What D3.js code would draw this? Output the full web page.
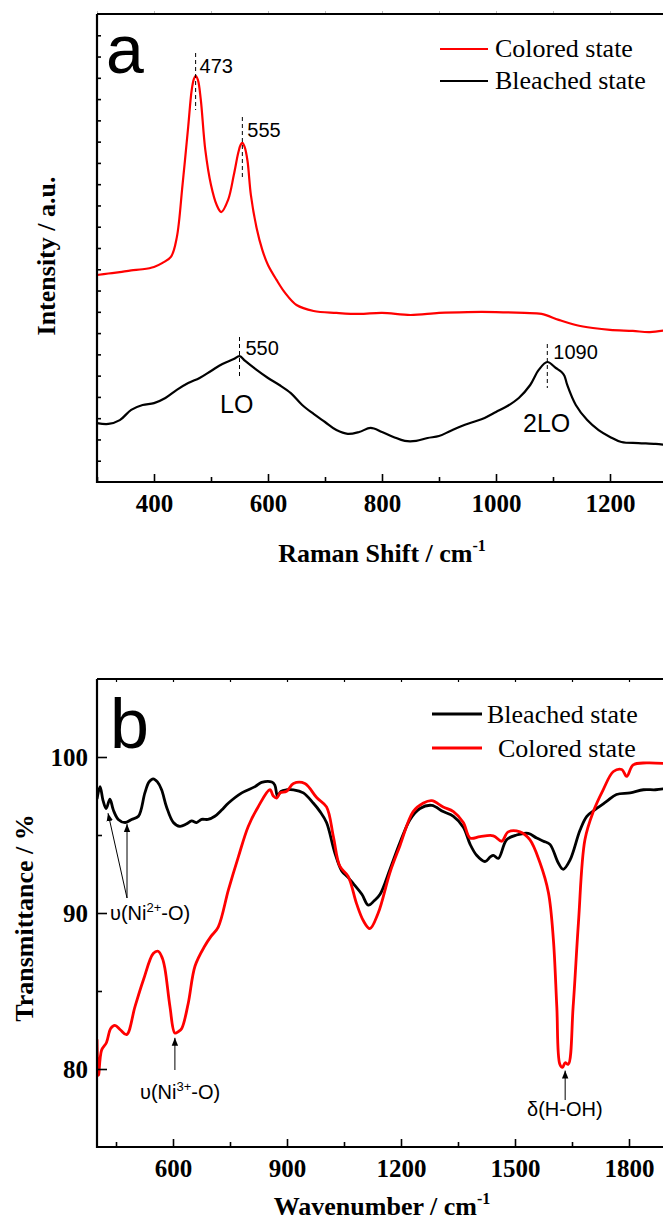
<!DOCTYPE html>
<html lang="en">
<head>
    <meta charset="utf-8">
    <title>Raman and FTIR</title>
    <script type="text/javascript" src="https://d3js.org/d3.v7.min.js"></script>
    <style type="text/css">
        body { margin: 0; background: #fff; }
        svg { display: block; }
    </style>
</head>
<body>
<script type="text/javascript">

    // Raman spectra (panel a), intensity in arbitrary units
    var ramanShiftColored = [300, 320, 340, 360, 380, 400, 415, 430, 440, 450, 460, 466, 470, 473, 477, 482, 490, 500, 510, 518, 530, 540, 548, 552, 555, 559, 564, 570, 580, 590, 600, 615, 630, 650, 680, 720, 760, 800, 850, 900, 950, 1000, 1050, 1080, 1110, 1140, 1170, 1200, 1240, 1270, 1300];
    var intensityColored = [9.73, 9.8, 9.87, 9.95, 10.0, 10.11, 10.3, 10.6, 11.5, 13.96, 16.7, 18.4, 18.95, 19.09, 18.9, 18.0, 15.61, 13.96, 13.02, 12.69, 13.26, 14.43, 15.5, 15.85, 15.94, 15.75, 15.1, 13.49, 11.94, 10.91, 10.2, 9.5, 8.89, 8.32, 8.04, 7.95, 7.9, 7.95, 7.85, 7.95, 7.99, 7.99, 7.95, 7.9, 7.62, 7.38, 7.24, 7.15, 7.1, 7.05, 7.15];

    var ramanShiftBleached = [300, 320, 340, 360, 380, 400, 420, 440, 460, 480, 500, 520, 540, 550, 560, 580, 600, 620, 640, 660, 680, 700, 720, 740, 760, 780, 800, 820, 840, 860, 880, 900, 920, 940, 960, 980, 1000, 1020, 1040, 1060, 1075, 1090, 1105, 1115, 1120, 1125, 1140, 1160, 1180, 1200, 1220, 1250, 1280, 1300];
    var intensityBleached = [2.77, 2.73, 2.91, 3.39, 3.62, 3.71, 3.95, 4.33, 4.65, 4.89, 5.22, 5.55, 5.78, 5.92, 5.69, 5.27, 4.89, 4.56, 4.18, 3.62, 3.2, 2.82, 2.44, 2.26, 2.35, 2.54, 2.35, 2.12, 1.93, 1.93, 2.07, 2.16, 2.4, 2.63, 2.82, 3.01, 3.29, 3.57, 3.95, 4.56, 5.27, 5.64, 5.36, 5.17, 5.0, 4.56, 3.62, 2.91, 2.44, 2.12, 1.88, 1.83, 1.79, 1.74];

    var ramanTicks = [400, 600, 800, 1000, 1200];
    var ramanMinorTicks = [300, 500, 700, 900, 1100, 1300];

    // FTIR spectra (panel b), transmittance in %
    var wavenumberBleached = [400, 408, 416, 424, 434, 443, 456, 474, 491, 509, 526, 537, 548, 559, 570, 583, 601, 618, 635, 649, 662, 675, 692, 710, 728, 746, 781, 816, 833, 860, 868, 875, 884, 900, 917, 943, 969, 987, 1004, 1026, 1044, 1060, 1074, 1097, 1114, 1130, 1145, 1171, 1197, 1224, 1250, 1281, 1311, 1338, 1364, 1382, 1399, 1421, 1435, 1443, 1456, 1478, 1504, 1535, 1557, 1575, 1592, 1614, 1627, 1645, 1671, 1689, 1715, 1741, 1767, 1803, 1838, 1870, 1900];
    var transmittanceBleached = [97.3, 98.1, 97.2, 96.7, 97.3, 96.6, 96.0, 95.8, 96.0, 96.2, 97.7, 98.4, 98.6, 98.4, 97.9, 96.8, 95.8, 95.55, 95.7, 95.9, 95.8, 96.0, 96.0, 96.2, 96.6, 97.05, 97.7, 98.1, 98.37, 98.4, 98.2, 97.5, 97.8, 97.9, 97.9, 97.7, 97.05, 96.5, 95.8, 93.85, 92.7, 92.3, 91.9, 91.2, 90.5, 90.8, 91.2, 92.8, 94.5, 96.0, 96.7, 96.9, 96.5, 96.2, 95.5, 94.4, 93.7, 93.3, 93.6, 93.7, 93.5, 94.7, 95.0, 95.1, 94.8, 94.6, 94.4, 93.2, 92.8, 93.4, 95.3, 96.2, 96.7, 97.15, 97.6, 97.7, 97.9, 97.9, 98.0];

    var wavenumberColored = [400, 404, 412, 425, 436, 447, 462, 478, 500, 522, 548, 561, 572, 579, 592, 605, 614, 623, 640, 658, 684, 700, 719, 746, 772, 798, 824, 855, 864, 873, 882, 899, 917, 947, 978, 1004, 1022, 1039, 1061, 1083, 1101, 1118, 1140, 1171, 1197, 1232, 1259, 1281, 1311, 1338, 1364, 1382, 1408, 1443, 1465, 1482, 1513, 1539, 1566, 1588, 1601, 1610, 1618, 1625, 1632, 1640, 1653, 1667, 1684, 1706, 1732, 1759, 1781, 1794, 1811, 1846, 1900];
    var transmittanceColored = [81.9, 79.6, 81.2, 81.7, 82.6, 82.8, 82.5, 82.2, 84.0, 85.7, 87.4, 87.55, 87.1, 86.4, 84.0, 82.3, 82.4, 82.6, 84.2, 86.6, 87.9, 88.5, 89.1, 91.5, 93.6, 95.55, 96.8, 97.9, 97.5, 97.37, 97.7, 97.8, 98.3, 98.3, 97.4, 96.8, 94.9, 93.0, 92.35, 90.6, 89.5, 89.0, 90.0, 92.6, 94.3, 96.5, 97.05, 97.2, 96.8, 96.5, 95.8, 94.8, 94.9, 94.95, 94.6, 95.2, 95.2, 94.7, 93.2, 91.3, 88.3, 84.0, 80.3, 80.1, 80.4, 80.3, 84.0, 89.4, 94.7, 96.5, 97.9, 99.07, 99.2, 98.76, 99.5, 99.62, 99.57];

    var ftirTicks = [600, 900, 1200, 1500, 1800];
    var ftirMinorTicks = [450, 750, 1050, 1350, 1650];
    var ftirYTicks = [80, 90, 100];
    var ftirYMinorTicks = [85, 95];

    var w = 663;
    var h = 1222;

    var serif = "'Liberation Serif', 'Times New Roman', serif";
    var sans = "'Liberation Sans', Arial, sans-serif";
    var plain = d3.format("d");

    var svg = d3.select("body")
        .append("svg")
        .attr("width", w)
        .attr("height", h);

    function zip(xs, ys) {
        return xs.map(function(x, i) { return [x, ys[i]]; });
    }

    function styleAxis(g, size) {
        g.select(".domain").remove();
        g.selectAll("line").attr("stroke", "#000").attr("stroke-width", 1.6);
        g.selectAll("text")
            .attr("font-family", serif)
            .attr("font-weight", "bold")
            .attr("font-size", size)
            .attr("fill", "#000");
    }

    function frame(left, top, right, bottom) {
        svg.append("path")
            .attr("d", "M" + left + "," + top + "H" + right + "M" + left + "," + top + "V" + bottom + "H" + right)
            .attr("fill", "none")
            .attr("stroke", "#000")
            .attr("stroke-width", 2.2);
    }

    function dashed(x, y1, y2) {
        svg.append("line")
            .attr("x1", x).attr("x2", x)
            .attr("y1", y1).attr("y2", y2)
            .attr("stroke", "#000")
            .attr("stroke-width", 1)
            .attr("stroke-dasharray", "4,3");
    }

    function label(x, y, text, size, family) {
        return svg.append("text")
            .attr("x", x).attr("y", y)
            .attr("font-family", family || sans)
            .attr("font-size", size)
            .attr("fill", "#000")
            .text(text);
    }

    // ---------------- Panel a : Raman ----------------
    var aLeft = 97, aTop = 14, aBottom = 482, aRight = 667;

    var xA = d3.scaleLinear().domain([300, 1300]).range([aLeft, aRight]);
    var yA = d3.scaleLinear().domain([0, 22]).range([aBottom, aTop]);

    svg.append("clipPath").attr("id", "clipA")
        .append("rect").attr("x", aLeft).attr("y", aTop)
        .attr("width", aRight - aLeft).attr("height", aBottom - aTop);

    var lineA = d3.line()
        .curve(d3.curveCatmullRom.alpha(0.5))
        .x(function(d) { return xA(d[0]); })
        .y(function(d) { return yA(d[1]); });

    svg.append("path")
        .datum(zip(ramanShiftColored, intensityColored))
        .attr("clip-path", "url(#clipA)")
        .attr("d", lineA)
        .attr("fill", "none")
        .attr("stroke", "#ff0000")
        .attr("stroke-width", 2.2)
        .attr("stroke-linejoin", "round");

    svg.append("path")
        .datum(zip(ramanShiftBleached, intensityBleached))
        .attr("clip-path", "url(#clipA)")
        .attr("d", lineA)
        .attr("fill", "none")
        .attr("stroke", "#000")
        .attr("stroke-width", 2.2)
        .attr("stroke-linejoin", "round");

    // bottom axis, major with labels
    svg.append("g")
        .attr("transform", "translate(0," + aBottom + ")")
        .call(d3.axisBottom(xA).tickValues(ramanTicks).tickFormat(plain).tickSizeInner(-8).tickSizeOuter(0).tickPadding(12))
        .call(styleAxis, 25);
    svg.append("g")
        .attr("transform", "translate(0," + aBottom + ")")
        .call(d3.axisBottom(xA).tickValues(ramanMinorTicks).tickSizeInner(-5).tickSizeOuter(0).tickFormat(""))
        .call(styleAxis, 25);
    // faint top ticks
    svg.append("g")
        .attr("transform", "translate(0," + aTop + ")")
        .call(d3.axisTop(xA).tickValues(ramanTicks.concat(ramanMinorTicks)).tickSizeInner(3).tickSizeOuter(0).tickFormat(""))
        .call(styleAxis, 25)
        .selectAll("line").attr("stroke", "#bbb").attr("stroke-width", 1);
    // left ticks, no labels
    svg.append("g")
        .attr("transform", "translate(" + aLeft + ",0)")
        .call(d3.axisLeft(yA).tickValues(d3.range(1, 22)).tickSizeInner(-4).tickSizeOuter(0).tickFormat(""))
        .call(styleAxis, 25);

    frame(aLeft, aTop, aRight, aBottom);

    // axis titles
    var tA = svg.append("text")
        .attr("x", 382).attr("y", 562)
        .attr("text-anchor", "middle")
        .attr("font-family", serif).attr("font-weight", "bold").attr("font-size", 26);
    tA.append("tspan").text("Raman Shift / cm");
    tA.append("tspan").attr("dy", -11).attr("font-size", 16).text("-1");

    svg.append("text")
        .attr("transform", "translate(55,256) rotate(-90)")
        .attr("text-anchor", "middle")
        .attr("font-family", serif).attr("font-weight", "bold").attr("font-size", 26)
        .text("Intensity / a.u.");

    // panel letter
    label(106, 73, "a", 68);

    // legend
    var legendA = [
        { name: "Colored state", color: "#ff0000", y: 49 },
        { name: "Bleached state", color: "#000", y: 81 }
    ];
    legendA.forEach(function(d) {
        svg.append("line")
            .attr("x1", 440).attr("x2", 488)
            .attr("y1", d.y).attr("y2", d.y)
            .attr("stroke", d.color).attr("stroke-width", 2);
        label(495, d.y + 8, d.name, 26, serif);
    });

    // peak marks
    dashed(xA(473), 53, 110);
    label(xA(473) + 4, 73, "473", 20);
    dashed(xA(555), 117, 178);
    label(xA(555) + 5, 137, "555", 20);
    dashed(xA(550), 337, 377);
    label(xA(550) + 6, 355, "550", 20);
    label(220, 413, "LO", 25);
    dashed(xA(1090), 344, 388);
    label(xA(1090) + 6, 359, "1090", 20);
    label(523, 432, "2LO", 25);

    // ---------------- Panel b : FTIR ----------------
    var bLeft = 97, bTop = 679, bBottom = 1147, bRight = 667;

    var xB = d3.scaleLinear().domain([400, 1900]).range([bLeft, bRight]);
    var yB = d3.scaleLinear().domain([75, 105]).range([bBottom, bTop]);

    svg.append("clipPath").attr("id", "clipB")
        .append("rect").attr("x", bLeft).attr("y", bTop)
        .attr("width", bRight - bLeft).attr("height", bBottom - bTop);

    var lineB = d3.line()
        .curve(d3.curveCatmullRom.alpha(0.5))
        .x(function(d) { return xB(d[0]); })
        .y(function(d) { return yB(d[1]); });

    svg.append("path")
        .datum(zip(wavenumberBleached, transmittanceBleached))
        .attr("clip-path", "url(#clipB)")
        .attr("d", lineB)
        .attr("fill", "none")
        .attr("stroke", "#000")
        .attr("stroke-width", 2.8)
        .attr("stroke-linejoin", "round");

    svg.append("path")
        .datum(zip(wavenumberColored, transmittanceColored))
        .attr("clip-path", "url(#clipB)")
        .attr("d", lineB)
        .attr("fill", "none")
        .attr("stroke", "#ff0000")
        .attr("stroke-width", 2.8)
        .attr("stroke-linejoin", "round");

    svg.append("g")
        .attr("transform", "translate(0," + bBottom + ")")
        .call(d3.axisBottom(xB).tickValues(ftirTicks).tickFormat(plain).tickSizeInner(-8).tickSizeOuter(0).tickPadding(12))
        .call(styleAxis, 25);
    svg.append("g")
        .attr("transform", "translate(0," + bBottom + ")")
        .call(d3.axisBottom(xB).tickValues(ftirMinorTicks).tickSizeInner(-5).tickSizeOuter(0).tickFormat(""))
        .call(styleAxis, 25);
    svg.append("g")
        .attr("transform", "translate(0," + bTop + ")")
        .call(d3.axisTop(xB).tickValues(ftirTicks.concat(ftirMinorTicks)).tickSizeInner(-3).tickSizeOuter(0).tickFormat(""))
        .call(styleAxis, 25)
        .selectAll("line").attr("stroke-width", 1.2);
    svg.append("g")
        .attr("transform", "translate(" + bLeft + ",0)")
        .call(d3.axisLeft(yB).tickValues(ftirYTicks).tickFormat(plain).tickSizeInner(-10).tickSizeOuter(0).tickPadding(9))
        .call(styleAxis, 25);
    svg.append("g")
        .attr("transform", "translate(" + bLeft + ",0)")
        .call(d3.axisLeft(yB).tickValues(ftirYMinorTicks).tickSizeInner(-5).tickSizeOuter(0).tickFormat(""))
        .call(styleAxis, 25);

    frame(bLeft, bTop, bRight, bBottom);

    var tB = svg.append("text")
        .attr("x", 382).attr("y", 1215)
        .attr("text-anchor", "middle")
        .attr("font-family", serif).attr("font-weight", "bold").attr("font-size", 26);
    tB.append("tspan").text("Wavenumber / cm");
    tB.append("tspan").attr("dy", -11).attr("font-size", 16).text("-1");

    svg.append("text")
        .attr("transform", "translate(33,918) rotate(-90)")
        .attr("text-anchor", "middle")
        .attr("font-family", serif).attr("font-weight", "bold").attr("font-size", 26)
        .text("Transmittance / %");

    label(110, 748, "b", 70);

    var legendB = [
        { name: "Bleached state", color: "#000", y: 714, x: 487 },
        { name: "Colored state", color: "#ff0000", y: 748, x: 498 }
    ];
    legendB.forEach(function(d) {
        svg.append("line")
            .attr("x1", 432).attr("x2", 482)
            .attr("y1", d.y).attr("y2", d.y)
            .attr("stroke", d.color).attr("stroke-width", 3);
        label(d.x, d.y + 9, d.name, 26, serif);
    });

    // arrow annotations
    var defs = svg.append("defs");
    defs.append("marker")
        .attr("id", "arrow")
        .attr("viewBox", "0 0 10 10")
        .attr("refX", 10).attr("refY", 5)
        .attr("markerWidth", 8).attr("markerHeight", 8)
        .attr("markerUnits", "userSpaceOnUse")
        .attr("orient", "auto")
        .append("path")
        .attr("d", "M0,1L10,5L0,9Z")
        .attr("fill", "#000");

    function arrow(x1, y1, x2, y2) {
        svg.append("line")
            .attr("x1", x1).attr("y1", y1)
            .attr("x2", x2).attr("y2", y2)
            .attr("stroke", "#000")
            .attr("stroke-width", 1)
            .attr("marker-end", "url(#arrow)");
    }

    arrow(127, 898, xB(429), yB(96.4));
    arrow(127, 898, xB(479), yB(95.7));
    arrow(xB(605), 1070, xB(605), yB(82.0));
    arrow(xB(1632), 1100, xB(1632), yB(79.9));

    function ionLabel(x, y, prefix, sup, suffix) {
        var t = svg.append("text")
            .attr("x", x).attr("y", y)
            .attr("font-family", sans)
            .attr("font-size", 20)
            .attr("fill", "#000");
        t.append("tspan").text(prefix);
        t.append("tspan").attr("dy", -8).attr("font-size", 13).text(sup);
        t.append("tspan").attr("dy", 8).text(suffix);
    }

    ionLabel(110, 920, "\u03c5(Ni", "2+", "-O)");
    ionLabel(140, 1099, "\u03c5(Ni", "3+", "-O)");
    label(527, 1116, "\u03b4(H-OH)", 20);

</script>
</body>
</html>
